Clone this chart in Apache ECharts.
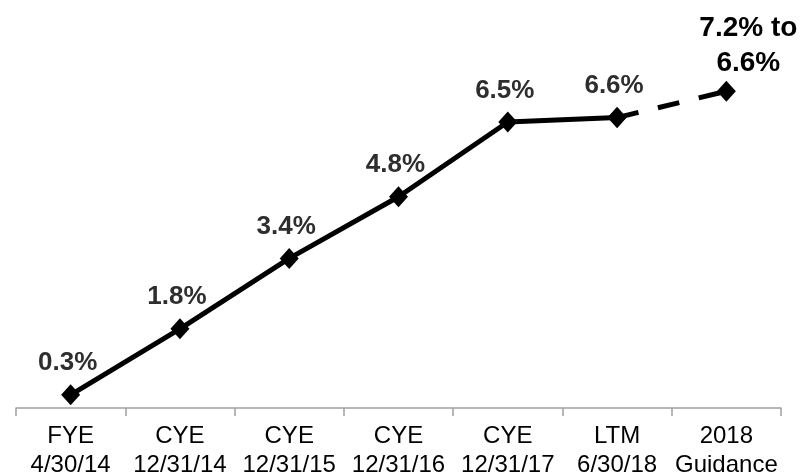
<!DOCTYPE html>
<html><head><meta charset="utf-8">
<script src="https://cdn.jsdelivr.net/npm/echarts@6/dist/echarts.min.js"></script>
<style>html,body{margin:0;padding:0;background:#fff}#c{width:802px;height:476px}</style>
</head><body><div id="c"></div>
<script>
var categories = ['FYE\n4/30/14','CYE\n12/31/14','CYE\n12/31/15','CYE\n12/31/16','CYE\n12/31/17','LTM\n6/30/18','2018\nGuidance'];
var actualValues = [0.3, 1.8, 3.4, 4.8, 6.5, 6.6];
var guidanceValue = 7.2;
var labelTexts = ['0.3%','1.8%','3.4%','4.8%','6.5%','6.6%','7.2% to\n6.6%'];

var solidData = actualValues.concat([null]);
var dashedData = categories.map(function(c,i){
  if (i === actualValues.length - 1) return actualValues[i];
  if (i === categories.length - 1) return guidanceValue;
  return null;
});

var chart = echarts.init(document.getElementById('c'));
chart.setOption({
  animation: false,
  grid: {left: 16, right: 21, top: 56, bottom: 68, outerBoundsMode: 'none', containLabel: false},
  xAxis: {
    type: 'category', data: categories, boundaryGap: true,
    axisLine: {lineStyle: {color: '#a0a0a0', width: 1.5}},
    axisTick: {show: true, length: 8, lineStyle: {color: '#a0a0a0', width: 1.5}},
    axisLabel: {color: '#000', fontFamily: 'Liberation Sans, Arial', fontSize: 24, lineHeight: 29, margin: 14, interval: 0}
  },
  yAxis: {type: 'value', min: 0, max: 8, show: false, splitLine: {show: false}},
  series: [
    {
      type: 'line', data: solidData, symbol: 'diamond', symbolSize: [19, 21],
      lineStyle: {color: '#000', width: 5}, itemStyle: {color: '#000'},
      label: {show: true, position: 'top', distance: 8, offset: [-3, 0],
        formatter: function(p){ return labelTexts[p.dataIndex]; },
        color: '#2e2e2e', fontFamily: 'Liberation Sans, Arial', fontWeight: 'bold', fontSize: 26}
    },
    {
      type: 'line', data: dashedData, symbol: 'diamond', symbolSize: [19, 21],
      showSymbol: true,
      lineStyle: {color: '#000', width: 5, type: [22, 20]}, itemStyle: {color: '#000'},
      label: {show: true, position: 'top', distance: 0, offset: [22, 0],
        formatter: function(p){ return p.dataIndex === categories.length - 1 ? labelTexts[p.dataIndex] : ''; },
        color: '#000', fontFamily: 'Liberation Sans, Arial', fontWeight: 'bold', fontSize: 28, lineHeight: 35, align: 'center'},
      z: 1
    }
  ]
});
</script></body></html>
